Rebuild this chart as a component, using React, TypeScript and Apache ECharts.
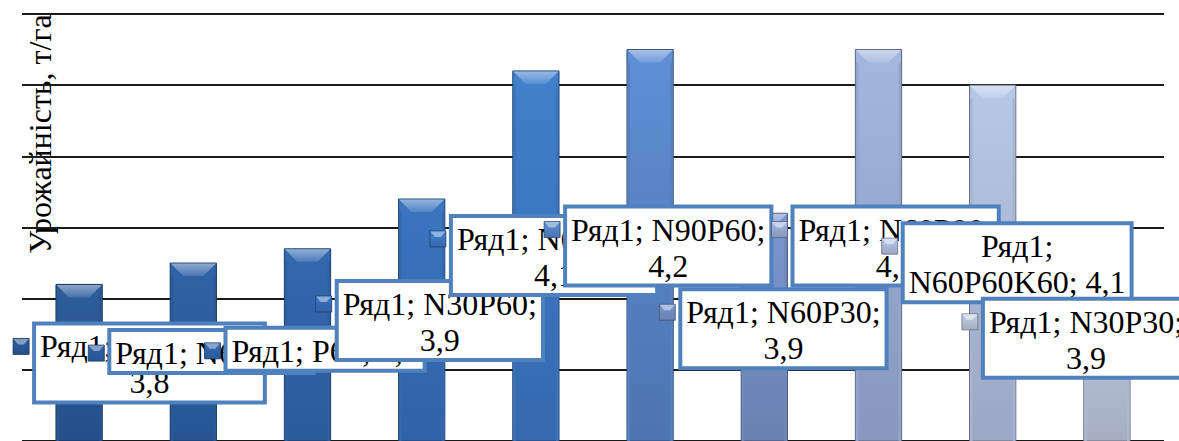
import React, { useEffect, useRef } from 'react';
import * as echarts from 'echarts';

// ---------- data ----------
const seriesName = 'Ряд1';
const categories = ['Контроль', 'N60', 'P60', 'N30P60', 'N60P60', 'N90P60', 'N60P30', 'N60P90', 'N60P60K60', 'N30P30'];
const yields = [3.82, 3.85, 3.87, 3.94, 4.12, 4.15, 3.92, 4.15, 4.1, 3.87];
const yMin = 3.6;
const yMax = 4.2;
const yInterval = 0.1;
const axisTitle = 'Урожайність, т/га';

// ---------- layout / style ----------
const labelOffsets: [number, number][] = [
  [-47, 37], [-86, 65], [-84, 77], [-87, 80], [-87, 143],
  [-87, 155], [-86, 74], [-88, 155], [-92, 136], [-126, 48],
];
const barTop = ['#2e5d9c', '#3063a6', '#3469b0', '#3b75c0', '#4180cc', '#5f8fd5', '#7a97d0', '#a3b7df', '#b7c8e7', '#c2cde4'];
const barBottom = ['#244f8a', '#275594', '#2a5b9c', '#2f62a8', '#3569b0', '#4c74b0', '#6a80b0', '#8797bd', '#9ca7c4', '#a5aec4'];
const FONT_FAMILY = '"Liberation Serif", "Times New Roman", serif';
const FONT_SIZE = 32;
const LINE_H = 36;
const BORDER = 4;
const PAD_X = 4;
const PAD_T = 3;
const PAD_B = 0;
const WRAP_W = 232;
const BORDER_COLOR = '#4f81bd';
const BAR_RATIO = 0.405;

function hexToRgb(h: string) {
  const n = parseInt(h.slice(1), 16);
  return [(n >> 16) & 255, (n >> 8) & 255, n & 255];
}
function mix(a: string, b: string, t: number) {
  const A = hexToRgb(a), B = hexToRgb(b);
  const c = A.map((v, k) => Math.round(v + (B[k] - v) * t));
  return `rgb(${c[0]},${c[1]},${c[2]})`;
}

let ctx: CanvasRenderingContext2D | null = null;
function measure(s: string) {
  if (!ctx) ctx = document.createElement('canvas').getContext('2d');
  ctx!.font = `${FONT_SIZE}px ${FONT_FAMILY}`;
  return ctx!.measureText(s).width;
}
function wrap(text: string, maxW: number) {
  const words = text.split(' ');
  const lines: string[] = [];
  let cur = '';
  for (const w of words) {
    const t = cur ? cur + ' ' + w : w;
    if (cur && measure(t) > maxW) {
      lines.push(cur);
      cur = w;
    } else cur = t;
  }
  if (cur) lines.push(cur);
  return lines;
}
function labelText(i: number) {
  return `${seriesName}; ${categories[i]}; ${yields[i].toFixed(1).replace('.', ',')}`;
}

export default function App() {
  const ref = useRef<HTMLDivElement>(null);
  useEffect(() => {
    const chart = echarts.init(ref.current!, null, { renderer: 'svg' });
    const data = yields.map((v, i) => [i, v]);
    chart.setOption({
      animation: false,
      backgroundColor: '#ffffff',
      grid: { left: 22, right: 15, top: 14, height: 430 },
      xAxis: {
        type: 'category',
        data: categories,
        axisLabel: { show: false },
        axisLine: { show: false },
        axisTick: { show: false },
      },
      yAxis: {
        type: 'value',
        min: yMin,
        max: yMax,
        interval: yInterval,
        axisLabel: { show: false },
        axisLine: { show: false },
        axisTick: { show: false },
        splitLine: { lineStyle: { color: '#1a1a1a', width: 2 } },
      },
      graphic: [
        {
          type: 'text',
          x: 40,
          y: 134,
          rotation: Math.PI / 2,
          style: {
            text: axisTitle,
            fontSize: FONT_SIZE,
            fontFamily: FONT_FAMILY,
            fill: '#000',
            align: 'center',
            verticalAlign: 'middle',
          },
        },
      ],
      series: [
        {
          name: seriesName,
          type: 'custom',
          silent: true,
          clip: false,
          z: 2,
          encode: { x: 0, y: 1 },
          data,
          renderItem: (params: any, api: any) => {
            const i = params.dataIndex;
            const xv = api.value(0);
            const top = api.coord([xv, api.value(1)]);
            const bot = api.coord([xv, yMin]);
            const bw = api.size([1, 0])[0] * BAR_RATIO;
            const x0 = top[0] - bw / 2, x1 = top[0] + bw / 2, y0 = top[1], y1 = bot[1];
            const b = Math.min(13, (y1 - y0) / 2);
            const c = barTop[i], cb = barBottom[i];
            return {
              type: 'group',
              children: [
                {
                  type: 'rect',
                  shape: { x: x0, y: y0, width: bw, height: y1 - y0 },
                  style: {
                    fill: new echarts.graphic.LinearGradient(0, 0, 0, 1, [
                      { offset: 0, color: c },
                      { offset: 1, color: cb },
                    ]),
                    stroke: mix(cb, '#000000', 0.35),
                    lineWidth: 1,
                  },
                },
                {
                  type: 'rect',
                  shape: { x: x0 + 0.5, y: y0 + b, width: 2.5, height: y1 - y0 - b },
                  style: { fill: mix(c, '#000000', 0.1) },
                },
                {
                  type: 'rect',
                  shape: { x: x1 - 3, y: y0 + b, width: 2.5, height: y1 - y0 - b },
                  style: { fill: mix(c, '#000000', 0.1) },
                },
                {
                  type: 'polygon',
                  shape: { points: [[x0 + 0.5, y0 + 0.5], [x1 - 0.5, y0 + 0.5], [x1 - b, y0 + b], [x0 + b, y0 + b]] },
                  style: {
                    fill: new echarts.graphic.LinearGradient(0, 0, 0, 1, [
                      { offset: 0, color: mix(c, '#ffffff', 0.45) },
                      { offset: 1, color: mix(c, '#ffffff', 0.12) },
                    ]),
                  },
                },
              ],
            };
          },
        },
        {
          name: seriesName,
          type: 'custom',
          silent: true,
          clip: false,
          z: 5,
          encode: { x: 0, y: 1 },
          data,
          renderItem: (params: any, api: any) => {
            const i = params.dataIndex;
            const pt = api.coord([api.value(0), api.value(1)]);
            const [dx, dy] = labelOffsets[i];
            const lines = wrap(labelText(i), WRAP_W);
            const tw = Math.max(...lines.map(measure));
            const w = tw + 2 * (BORDER + PAD_X);
            const h = lines.length * LINE_H + 2 * BORDER + PAD_T + PAD_B;
            const bx = pt[0] + dx, by = pt[1] + dy;
            const mk = 16, mx = bx - 3 - mk, my = by + 25 - mk / 2;
            const c = barTop[i];
            return {
              type: 'group',
              children: [
                {
                  type: 'rect',
                  z2: i * 10,
                  shape: { x: mx, y: my, width: mk, height: mk },
                  style: {
                    fill: new echarts.graphic.LinearGradient(0, 0, 0, 1, [
                      { offset: 0, color: c },
                      { offset: 1, color: barBottom[i] },
                    ]),
                    stroke: mix(barBottom[i], '#000000', 0.35),
                    lineWidth: 0.8,
                  },
                },
                {
                  type: 'polygon',
                  z2: i * 10 + 1,
                  shape: { points: [[mx + 0.5, my + 0.5], [mx + mk - 0.5, my + 0.5], [mx + mk - 5, my + 6], [mx + 5, my + 6]] },
                  style: { fill: mix(c, '#ffffff', 0.4) },
                },
                {
                  type: 'rect',
                  z2: i * 10 + 2,
                  shape: { x: bx + BORDER / 2, y: by + BORDER / 2, width: w - BORDER, height: h - BORDER },
                  style: { fill: '#ffffff', stroke: BORDER_COLOR, lineWidth: BORDER },
                },
                {
                  type: 'text',
                  z2: i * 10 + 3,
                  x: bx + w / 2,
                  y: by + BORDER + PAD_T,
                  style: {
                    text: lines.join('\n'),
                    fontSize: FONT_SIZE,
                    fontFamily: FONT_FAMILY,
                    fill: '#000000',
                    align: 'center',
                    verticalAlign: 'top',
                    lineHeight: LINE_H,
                  },
                },
              ],
            };
          },
        },
      ],
    });
    return () => chart.dispose();
  }, []);
  return <div ref={ref} style={{ position: 'fixed', left: 0, top: 0, width: 1179, height: 441 }} />;
}
